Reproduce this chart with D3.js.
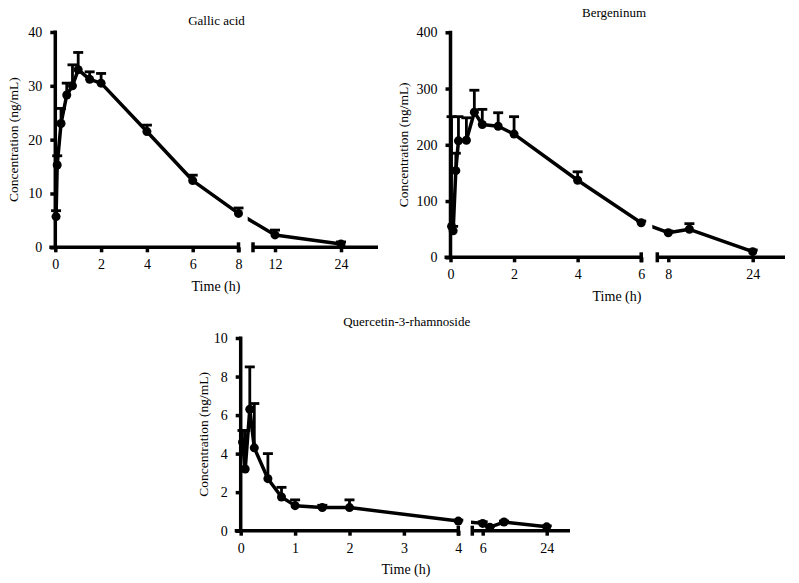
<!DOCTYPE html>
<html><head><meta charset="utf-8">
<script src="https://cdn.jsdelivr.net/npm/d3@7"></script>
<style>
body{margin:0;background:#fff;}
text{font-family:"Liberation Serif","DejaVu Serif",serif;fill:#000;font-weight:normal;}
</style></head>
<body><svg id="c" width="799" height="583"></svg>
<script>
// ---- data ----
const gallicTime = [0.033, 0.083, 0.25, 0.5, 0.75, 1, 1.5, 2, 4, 6, 8, 12, 24];
const gallicMean = [5.7, 15.3, 23.0, 28.3, 30.0, 33.0, 31.2, 30.5, 21.5, 12.4, 6.3, 2.3, 0.6];
const gallicSD   = [1.1, 1.7, 2.8, 2.2, 3.9, 3.2, 1.4, 1.8, 1.2, 1.0, 1.0, 0.9, 0.4];

const bergTime = [0.033, 0.083, 0.167, 0.25, 0.5, 0.75, 1, 1.5, 2, 4, 6, 8, 12, 24];
const bergMean = [55, 47, 154, 207, 208, 258, 236, 233, 219, 137, 61.5, 43.7, 49.8, 10];
const bergSD   = [195, 8, 31, 43, 40, 39, 27, 24, 31, 15, 3, 3, 10, 3];

const querTime = [0.033, 0.083, 0.167, 0.25, 0.5, 0.75, 1, 1.5, 2, 4, 6, 8, 12, 24];
const querMean = [4.6, 3.2, 6.3, 4.3, 2.7, 1.75, 1.3, 1.2, 1.2, 0.5, 0.38, 0.18, 0.45, 0.2];
const querSD   = [0.6, 2.0, 2.2, 2.3, 1.3, 0.5, 0.3, 0.12, 0.4, 0.05, 0.08, 0.05, 0.05, 0.05];

const gallicXTicks1 = [0, 2, 4, 6, 8], gallicXTicks2 = [12, 24], gallicYTicks = [0, 10, 20, 30, 40];
const bergXTicks1 = [0, 2, 4, 6], bergXTicks2 = [8, 24], bergYTicks = [0, 100, 200, 300, 400];
const querXTicks1 = [0, 1, 2, 3, 4], querXTicks2 = [6, 24], querYTicks = [0, 2, 4, 6, 8, 10];

const titles = ["Gallic acid", "Bergeninum", "Quercetin-3-rhamnoside"];
const xTitle = "Time (h)", yTitle = "Concentration (ng/mL)";

// ---- layout ----
const panels = [
  {title: titles[0], t: gallicTime, m: gallicMean, e: gallicSD,
   xt1: gallicXTicks1, xt2: gallicXTicks2, yt: gallicYTicks, yMax: 40,
   brk: 8, d1: [0, 8], r1: [55.3, 238.5], d2: [12, 24], r2: [275, 341],
   seg2Start: 253, seg2End: 378, lineGap: [239.5, 247.7],
   y0: 247.3, y1: 32, titleX: 216.5, titleY: 22, yTitleX: 15, xTitleX: 216},
  {title: titles[1], t: bergTime, m: bergMean, e: bergSD,
   xt1: bergXTicks1, xt2: bergXTicks2, yt: bergYTicks, yMax: 400,
   brk: 6, d1: [0, 6], r1: [450.5, 641.2], d2: [8, 24], r2: [668.3, 752.7],
   seg2Start: 657.3, seg2End: 785, lineGap: [642, 652.3],
   y0: 257.3, y1: 32.3, titleX: 614, titleY: 14, yTitleX: 405, xTitleX: 617},
  {title: titles[2], t: querTime, m: querMean, e: querSD,
   xt1: querXTicks1, xt2: querXTicks2, yt: querYTicks, yMax: 10,
   brk: 4, d1: [0, 4], r1: [240.7, 458.3], d2: [6, 24], r2: [482.7, 546.7],
   seg2Start: 472.3, seg2End: 570, lineGap: [459, 471],
   y0: 530.7, y1: 338, titleX: 406.7, titleY: 323, yTitleX: 205, xTitleX: 406}
];

const svg = d3.select("#c");
const AX = 3.5; // axis stroke width

panels.forEach((p, pi) => {
  const g = svg.append("g");
  const s1 = d3.scaleLinear().domain(p.d1).range(p.r1);
  const s2 = d3.scaleLinear().domain(p.d2).range(p.r2);
  const xs = t => t <= p.brk ? s1(t) : s2(t);
  const y = d3.scaleLinear().domain([0, p.yMax]).range([p.y0, p.y1]);
  const ax0 = p.r1[0];

  // y axis
  const ya = g.append("g").attr("transform", `translate(${ax0},0)`)
    .call(d3.axisLeft(y).tickValues(p.yt).tickSize(5).tickPadding(8).tickFormat(d3.format("d")));
  ya.select(".domain").remove();
  ya.selectAll(".tick line").attr("stroke", "#000").attr("stroke-width", AX);
  ya.selectAll(".tick text").style("font-size", "14px").style("font-family", "Liberation Serif");
  g.append("line").attr("x1", ax0).attr("x2", ax0).attr("y1", p.y1 - 1.5).attr("y2", p.y0 + 1.5)
    .attr("stroke", "#000").attr("stroke-width", AX);

  // x axis segments
  const xa1 = g.append("g").attr("transform", `translate(0,${p.y0})`)
    .call(d3.axisBottom(s1).tickValues(p.xt1).tickSize(5).tickPadding(7).tickFormat(d3.format("d")));
  const xa2 = g.append("g").attr("transform", `translate(0,${p.y0})`)
    .call(d3.axisBottom(s2).tickValues(p.xt2).tickSize(5).tickPadding(7).tickFormat(d3.format("d")));
  [xa1, xa2].forEach(a => {
    a.select(".domain").remove();
    a.selectAll(".tick line").attr("stroke", "#000").attr("stroke-width", AX);
    a.selectAll(".tick text").style("font-size", "14px").style("font-family", "Liberation Serif");
  });
  g.append("line").attr("x1", ax0 - 6).attr("x2", p.r1[1] + 1.5).attr("y1", p.y0).attr("y2", p.y0)
    .attr("stroke", "#000").attr("stroke-width", AX);
  g.append("line").attr("x1", p.seg2Start).attr("x2", p.seg2End).attr("y1", p.y0).attr("y2", p.y0)
    .attr("stroke", "#000").attr("stroke-width", AX);
  // segment end caps
  [p.r1[1], p.seg2Start].forEach(xc => {
    g.append("line").attr("x1", xc).attr("x2", xc).attr("y1", p.y0 - 5).attr("y2", p.y0 + 5)
      .attr("stroke", "#000").attr("stroke-width", AX);
  });

  // clip paths for the data line across the break
  const cidA = "clipA" + pi, cidB = "clipB" + pi;
  const defs = svg.append("defs");
  defs.append("clipPath").attr("id", cidA).append("rect")
    .attr("x", 0).attr("y", 0).attr("width", p.lineGap[0]).attr("height", 583);
  defs.append("clipPath").attr("id", cidB).append("rect")
    .attr("x", p.lineGap[1]).attr("y", 0).attr("width", 799).attr("height", 583);

  const data = p.t.map((t, i) => ({t, m: p.m[i], e: p.e[i]}));
  const line = d3.line().x(d => xs(d.t)).y(d => y(d.m));
  [cidA, cidB].forEach(cid => {
    g.append("path").datum(data).attr("d", line).attr("fill", "none")
      .attr("stroke", "#000").attr("stroke-width", 3.5).attr("stroke-linejoin", "round")
      .attr("clip-path", `url(#${cid})`);
  });

  // error bars (upper only)
  const eb = g.append("g").attr("stroke", "#000").attr("stroke-width", 2.8);
  eb.selectAll("line.v").data(data).join("line").attr("class", "v")
    .attr("x1", d => xs(d.t)).attr("x2", d => xs(d.t))
    .attr("y1", d => y(d.m)).attr("y2", d => y(d.m + d.e));
  eb.selectAll("line.c").data(data).join("line").attr("class", "c")
    .attr("x1", d => xs(d.t) - 5).attr("x2", d => xs(d.t) + 5)
    .attr("y1", d => y(d.m + d.e)).attr("y2", d => y(d.m + d.e));

  // markers
  g.selectAll("circle").data(data).join("circle")
    .attr("cx", d => xs(d.t)).attr("cy", d => y(d.m)).attr("r", 4.5).attr("fill", "#000");

  // titles
  g.append("text").attr("x", p.titleX).attr("y", p.titleY).attr("text-anchor", "middle")
    .attr("dominant-baseline", "middle").style("font-size", "13px").text(p.title);
  g.append("text").attr("x", p.xTitleX).attr("y", p.y0 + 40).attr("text-anchor", "middle")
    .attr("dominant-baseline", "middle").style("font-size", "14px").text(xTitle);
  g.append("text").attr("transform", `translate(${p.yTitleX},${(p.y0 + p.y1) / 2}) rotate(-90)`)
    .attr("text-anchor", "middle").attr("dominant-baseline", "middle")
    .style("font-size", "13.5px").text(yTitle);
});
</script></body></html>
